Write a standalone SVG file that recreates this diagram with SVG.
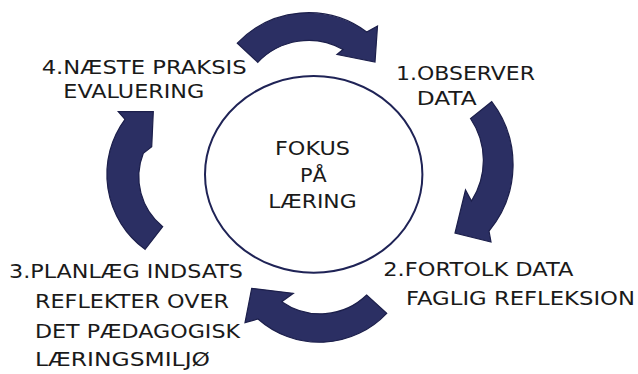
<svg xmlns="http://www.w3.org/2000/svg" width="638" height="374" viewBox="0 0 638 374">
<style>
.t{font-family:"DejaVu Sans","Verdana",sans-serif;font-size:19.5px;fill:#1a1a1a}
.arw{fill:#2b2f63;stroke:#1c1f4b;stroke-width:1.2;stroke-linejoin:miter}
.hub{fill:#ffffff;stroke:#1f2356;stroke-width:2}
</style>
<rect width="638" height="374" fill="#ffffff"/>
<g id="connectors">
<path class="arw" d="M237.3,43.2 A98,98 0 0,1 366.7,32 L377.5,26 L375,62 L337,54.5 L343,49.5 A70,70 0 0,0 257.8,62.3 Z"/>
<path class="arw" d="M491.7,101.7 A103.5,103.5 0 0,1 489,231 L491,242 L455,233 L465.5,190 L471.5,201 A75,75 0 0,0 470.5,118.5 Z"/>
<path class="arw" d="M386.7,313.3 A92.7,92.7 0 0,1 258,319 L245,322.7 L251.7,288.3 L293.3,293.3 L281.7,301.7 A67,67 0 0,0 366.7,295 Z"/>
<path class="arw" d="M145,249.3 A92.7,92.7 0 0,1 125,119.3 L118.3,111.7 L153.3,111.7 L151.7,146.7 L143.3,153.3 A64,64 0 0,0 162.7,226.7 Z"/>
</g>
<g id="center">
<ellipse class="hub" cx="313.7" cy="174.4" rx="108.7" ry="98.3"/>
<text class="t" x="275" y="155" textLength="75" lengthAdjust="spacingAndGlyphs">FOKUS</text>
<text class="t" x="300" y="181.7" textLength="26.7" lengthAdjust="spacingAndGlyphs">PÅ</text>
<text class="t" x="268.3" y="207.7" textLength="88.3" lengthAdjust="spacingAndGlyphs">LÆRING</text>
</g>
<g id="step1">
<text class="t" x="396" y="80" textLength="139" lengthAdjust="spacingAndGlyphs">1.OBSERVER</text>
<text class="t" x="416.7" y="105" textLength="60" lengthAdjust="spacingAndGlyphs">DATA</text>
</g>
<g id="step2">
<text class="t" x="383.3" y="276" textLength="190" lengthAdjust="spacingAndGlyphs">2.FORTOLK DATA</text>
<text class="t" x="406" y="305" textLength="229" lengthAdjust="spacingAndGlyphs">FAGLIG REFLEKSION</text>
</g>
<g id="step3">
<text class="t" x="9" y="278" textLength="234" lengthAdjust="spacingAndGlyphs">3.PLANLÆG INDSATS</text>
<text class="t" x="35" y="308" textLength="194" lengthAdjust="spacingAndGlyphs">REFLEKTER OVER</text>
<text class="t" x="35" y="338" textLength="205" lengthAdjust="spacingAndGlyphs">DET PÆDAGOGISK</text>
<text class="t" x="35" y="366" textLength="175" lengthAdjust="spacingAndGlyphs">LÆRINGSMILJØ</text>
</g>
<g id="step4">
<text class="t" x="41.7" y="74" textLength="205" lengthAdjust="spacingAndGlyphs">4.NÆSTE PRAKSIS</text>
<text class="t" x="63.3" y="98" textLength="141" lengthAdjust="spacingAndGlyphs">EVALUERING</text>
</g>
</svg>
